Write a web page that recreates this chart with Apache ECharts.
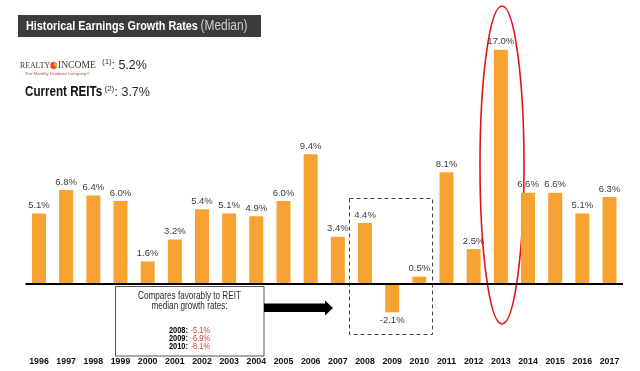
<!DOCTYPE html>
<html>
<head>
<meta charset="utf-8">
<script src="https://cdn.jsdelivr.net/npm/echarts@6/dist/echarts.min.js"></script>
<style>
html,body{margin:0;padding:0;background:#fff;}
#chart{width:640px;height:371px;}
</style>
</head>
<body>
<div id="chart"></div>
<script>
// ---- data ----
var years = ['1996','1997','1998','1999','2000','2001','2002','2003','2004','2005','2006','2007','2008','2009','2010','2011','2012','2013','2014','2015','2016','2017'];
var growth = [5.1, 6.8, 6.4, 6.0, 1.6, 3.2, 5.4, 5.1, 4.9, 6.0, 9.4, 3.4, 4.4, -2.1, 0.5, 8.1, 2.5, 17.0, 6.6, 6.6, 5.1, 6.3];
var reitYears = ['2008', '2009', '2010'];
var reitRates = ['-5.1%', '-6.9%', '-8.1%'];
var realtyMedian = '5.2%';
var reitsMedian = '3.7%';

var SANS = '"Liberation Sans", Arial, sans-serif';
var SERIF = '"Liberation Serif", "DejaVu Serif", serif';

var chart = echarts.init(document.getElementById('chart'), null, {renderer: 'canvas'});

var barData = growth.map(function (v) {
  return { value: v, label: { position: v < 0 ? 'bottom' : 'top' } };
});

var reitRich = reitYears.map(function (y, i) {
  return '{b|' + y + ':} {r|' + reitRates[i] + '}';
}).join('\n');

var option = {
  animation: false,
  backgroundColor: '#ffffff',
  grid: { left: 25.4, right: 16.9, top: 36, bottom: 32.5, containLabel: false },
  xAxis: {
    type: 'category',
    data: years,
    axisLine: { show: false, onZero: false },
    axisTick: { show: false },
    axisLabel: {
      interval: 0,
      margin: 19,
      color: '#111111',
      fontFamily: SANS,
      fontWeight: 'bold',
      fontSize: 8.8
    }
  },
  yAxis: {
    type: 'value',
    min: -4,
    max: 18,
    show: false,
    splitLine: { show: false }
  },
  series: [{
    type: 'bar',
    data: barData,
    barWidth: 14,
    itemStyle: { color: '#F8A233' },
    label: {
      show: true,
      distance: 3,
      color: '#3c3c3c',
      fontFamily: SANS,
      fontSize: 9.5,
      formatter: function (p) { return p.value.toFixed(1) + '%'; }
    },
    markLine: {
      silent: true,
      symbol: 'none',
      label: { show: false },
      lineStyle: { color: '#000000', width: 2, type: 'solid' },
      data: [{ yAxis: 0 }]
    }
  }],
  graphic: [
    // title bar
    { type: 'rect', shape: { x: 18, y: 15, width: 243, height: 22 }, style: { fill: '#3b3b3b' } },
    { type: 'text', x: 26, y: 26, scaleX: 0.82, style: {
        text: '{a|Historical Earnings Growth Rates} {b|(Median)}',
        verticalAlign: 'middle',
        rich: {
          a: { fill: '#ffffff', fontFamily: SANS, fontWeight: 'bold', fontSize: 13.2 },
          b: { fill: '#cfcfcf', fontFamily: SANS, fontSize: 14.5 }
        }
    } },
    // realty income logo line
    { type: 'text', x: 20, y: 65.5, style: { text: 'REALTY', fill: '#3a3a3a', fontFamily: SERIF, fontSize: 7.8, verticalAlign: 'middle' } },
    { type: 'polygon', shape: { points: [[53.7,61.5],[57,63.3],[57,67.7],[53.7,69.5],[50.4,67.7],[50.4,63.3]] }, style: { fill: '#e8452c' } },
    { type: 'polygon', shape: { points: [[53.7,61.5],[57,63.3],[57,67.7],[53.7,65.5]] }, style: { fill: '#f7a233' } },
    { type: 'text', x: 58, y: 65.5, style: { text: 'INCOME', fill: '#3a3a3a', fontFamily: SERIF, fontSize: 9.6, verticalAlign: 'middle' } },
    { type: 'text', x: 102, y: 62, style: { text: '(1)', fill: '#333333', fontFamily: SANS, fontSize: 8, verticalAlign: 'middle' } },
    { type: 'text', x: 111.5, y: 65.5, style: { text: ': ' + realtyMedian, fill: '#2a2a2a', fontFamily: SANS, fontSize: 12.5, verticalAlign: 'middle' } },
    { type: 'text', x: 25, y: 74, style: { text: 'The Monthly Dividend Company\u00ae', fill: '#b04a3c', fontFamily: SANS, fontSize: 4.3, verticalAlign: 'middle' } },
    // current REITs line
    { type: 'text', x: 25, y: 92.5, scaleX: 0.83, style: { text: 'Current REITs', fill: '#111111', fontFamily: SANS, fontWeight: 'bold', fontSize: 14, verticalAlign: 'middle' } },
    { type: 'text', x: 104.5, y: 88.5, style: { text: '(2)', fill: '#333333', fontFamily: SANS, fontSize: 8, verticalAlign: 'middle' } },
    { type: 'text', x: 114.5, y: 92.5, style: { text: ': ' + reitsMedian, fill: '#2a2a2a', fontFamily: SANS, fontSize: 12.5, verticalAlign: 'middle' } },
    // callout box
    { type: 'rect', shape: { x: 115.5, y: 286.5, width: 148.5, height: 69.5 }, style: { fill: '#ffffff', stroke: '#555555', lineWidth: 1 } },
    { type: 'text', x: 189.5, y: 301, scaleX: 0.8, style: {
        text: 'Compares favorably to REIT\nmedian growth rates:',
        fill: '#2a2a2a', fontFamily: SANS, fontSize: 10.2, lineHeight: 10.5,
        align: 'center', verticalAlign: 'middle'
    } },
    { type: 'text', x: 189.5, y: 338.5, scaleX: 0.8, style: {
        text: reitRich,
        align: 'center', verticalAlign: 'middle', lineHeight: 8,
        rich: {
          b: { fill: '#000000', fontFamily: SANS, fontWeight: 'bold', fontSize: 9.3, lineHeight: 8 },
          r: { fill: '#d03a3a', fontFamily: SANS, fontSize: 9.3, lineHeight: 8 }
        }
    } },
    // arrow
    { type: 'polygon', shape: { points: [[264,303.5],[325,303.5],[325,300.5],[333,308],[325,315.5],[325,312],[264,312]] }, style: { fill: '#000000' } },
    // dashed box around 2008-2010
    { type: 'rect', shape: { x: 349.5, y: 198.5, width: 83, height: 136 }, style: { fill: 'none', stroke: '#444444', lineWidth: 1, lineDash: [4, 3] } },
    // red ellipse around 2013
    { type: 'ellipse', shape: { cx: 502, cy: 165, rx: 22, ry: 159 }, style: { fill: 'none', stroke: '#e3121b', lineWidth: 1.6 } }
  ]
};

chart.setOption(option);
</script>
</body>
</html>
